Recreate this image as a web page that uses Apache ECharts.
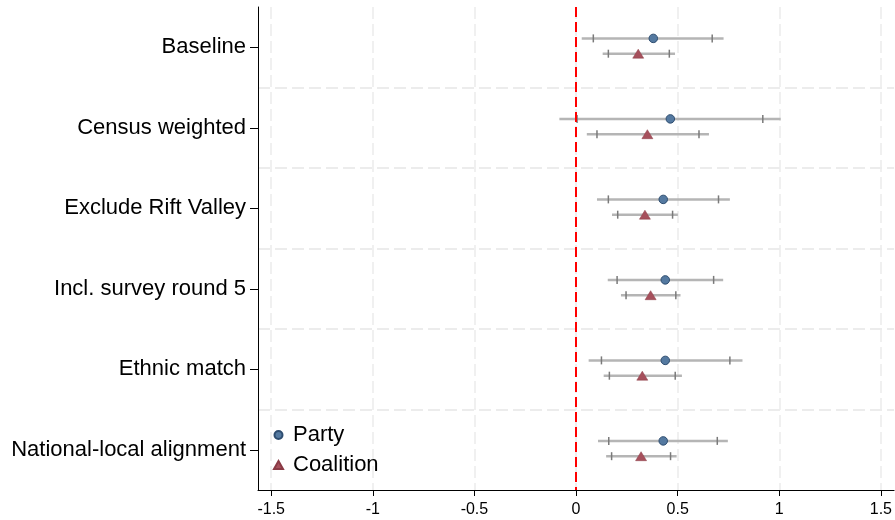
<!DOCTYPE html>
<html>
<head>
<meta charset="utf-8">
<script src="https://cdn.jsdelivr.net/npm/echarts@6/dist/echarts.min.js"></script>
<style>html,body{margin:0;padding:0;background:#fff}#c{width:895px;height:520px}</style>
</head>
<body>
<div id="c"></div>
<script>
const categories = ['Baseline','Census weighted','Exclude Rift Valley','Incl. survey round 5','Ethnic match','National-local alignment'];
const partyEst  = [0.380, 0.464, 0.429, 0.439, 0.439, 0.429];
const partyLo95 = [0.028, -0.082, 0.103, 0.156, 0.062, 0.108];
const partyHi95 = [0.726, 1.007, 0.757, 0.724, 0.819, 0.747];
const partyLo90 = [0.085, 0.005, 0.159, 0.202, 0.125, 0.161];
const partyHi90 = [0.670, 0.919, 0.701, 0.677, 0.757, 0.695];
const coalEst   = [0.306, 0.351, 0.339, 0.367, 0.326, 0.320];
const coalLo95  = [0.131, 0.053, 0.177, 0.221, 0.136, 0.148];
const coalHi95  = [0.487, 0.654, 0.501, 0.514, 0.521, 0.495];
const coalLo90  = [0.159, 0.103, 0.205, 0.246, 0.164, 0.175];
const coalHi90  = [0.459, 0.605, 0.475, 0.491, 0.488, 0.465];
const xTicks = [-1.5, -1, -0.5, 0, 0.5, 1, 1.5];

const PARTY_OFF = -0.11, COAL_OFF = 0.08;
const FONT = '"Liberation Sans", Arial, sans-serif';

function ciData(lo95, hi95, lo90, hi90, off) {
  return categories.map((c, i) => [lo95[i], hi95[i], lo90[i], hi90[i], i + off]);
}
function renderCI(params, api) {
  const y = api.value(4);
  const a = api.coord([api.value(0), y]);
  const b = api.coord([api.value(1), y]);
  const c = api.coord([api.value(2), y]);
  const d = api.coord([api.value(3), y]);
  const capStyle = {stroke: '#7a7a7a', lineWidth: 1.5};
  return {type: 'group', children: [
    {type: 'line', shape: {x1: a[0], y1: a[1], x2: b[0], y2: b[1]}, style: {stroke: '#b5b5b5', lineWidth: 2.5}},
    {type: 'line', shape: {x1: c[0], y1: c[1] - 4, x2: c[0], y2: c[1] + 4}, style: capStyle},
    {type: 'line', shape: {x1: d[0], y1: d[1] - 4, x2: d[0], y2: d[1] + 4}, style: capStyle}
  ]};
}

const chart = echarts.init(document.getElementById('c'), null, {renderer: 'canvas'});
chart.setOption({
  animation: false,
  backgroundColor: '#ffffff',
  grid: {left: 258, right: 0, top: 7, bottom: 30, containLabel: false},
  legend: {
    data: ['Party', 'Coalition'],
    orient: 'vertical',
    left: 268, top: 418,
    itemWidth: 9, itemHeight: 8, itemGap: 6,
    textStyle: {fontFamily: FONT, fontSize: 22, color: '#000', lineHeight: 24, padding: [0, 0, 0, 5]}
  },
  xAxis: {
    type: 'value', min: -1.565, max: 1.565,
    axisLine: {show: true, onZero: false, lineStyle: {color: '#000', width: 1}},
    axisTick: {show: true, length: 6, customValues: xTicks, lineStyle: {color: '#000'}},
    axisLabel: {customValues: xTicks, fontFamily: FONT, fontSize: 16, color: '#000', margin: 12},
    splitLine: {show: true, lineStyle: {color: '#ebebeb', width: 1.5, type: [12, 5]}}
  },
  yAxis: [{
    type: 'category', data: categories, inverse: true, boundaryGap: true,
    axisLine: {show: true, onZero: false, lineStyle: {color: '#000', width: 1}},
    axisTick: {show: true, alignWithLabel: true, length: 8, lineStyle: {color: '#000'}},
    axisLabel: {fontFamily: FONT, fontSize: 22, color: '#000', margin: 12},
    splitLine: {show: true, showMinLine: false, showMaxLine: false, lineStyle: {color: '#e6e6e6', width: 1.5, type: [12, 5]}}
  }, {
    type: 'value', min: -0.5, max: 5.5, inverse: true, show: false
  }],
  series: [
    {
      type: 'custom', name: 'PartyCI', xAxisIndex: 0, yAxisIndex: 1,
      renderItem: renderCI, encode: {x: [0, 1, 2, 3], y: 4},
      data: ciData(partyLo95, partyHi95, partyLo90, partyHi90, PARTY_OFF), z: 2, silent: true
    },
    {
      type: 'custom', name: 'CoalCI', xAxisIndex: 0, yAxisIndex: 1,
      renderItem: renderCI, encode: {x: [0, 1, 2, 3], y: 4},
      data: ciData(coalLo95, coalHi95, coalLo90, coalHi90, COAL_OFF), z: 2, silent: true
    },
    {
      type: 'scatter', name: 'Party', xAxisIndex: 0, yAxisIndex: 1,
      symbol: 'circle', symbolSize: 8.5, z: 4,
      itemStyle: {color: '#5479a0', borderColor: '#2e4d70', borderWidth: 1, opacity: 1},
      data: partyEst.map((v, i) => [v, i + PARTY_OFF]),
      markLine: {
        silent: true, symbol: ['none', 'none'], label: {show: false},
        lineStyle: {color: '#ff0000', width: 2, type: [10, 5]},
        data: [{xAxis: 0}], z: 3
      }
    },
    {
      type: 'scatter', name: 'Coalition', xAxisIndex: 0, yAxisIndex: 1,
      symbol: 'triangle', symbolSize: [11, 9], z: 4,
      itemStyle: {color: '#a6505c', borderColor: '#8a3a45', borderWidth: 0.5, opacity: 1},
      data: coalEst.map((v, i) => [v, i + COAL_OFF])
    }
  ]
});
</script>
</body>
</html>
